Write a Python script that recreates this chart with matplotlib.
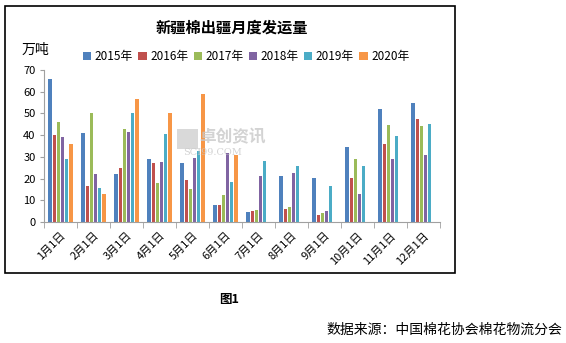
import numpy as np
import matplotlib.pyplot as plt
from matplotlib.patches import Rectangle

plt.rcParams['font.family'] = ['Noto Sans CJK SC', 'DejaVu Sans']

MONTHS = ["1月1日", "2月1日", "3月1日", "4月1日", "5月1日", "6月1日",
          "7月1日", "8月1日", "9月1日", "10月1日", "11月1日", "12月1日"]
SERIES = ["2015年", "2016年", "2017年", "2018年", "2019年", "2020年"]
COLORS = ["#4F81BD", "#C0504D", "#9BBB59", "#8064A2", "#4BACC6", "#F79646"]

v2015 = [65.8, 41.0, 22.0, 28.9, 27.1, 7.8, 4.6, 21.1, 20.4, 34.5, 52.1, 55.0]
v2016 = [40.0, 16.4, 25.1, 27.1, 19.4, 7.8, 5.2, 6.0, 3.1, 20.4, 36.1, 47.3]
v2017 = [46.0, 50.0, 43.0, 18.0, 15.2, 12.6, 5.7, 6.9, 4.3, 28.9, 44.7, 44.3]
v2018 = [39.2, 22.0, 41.5, 27.6, 29.7, 31.9, 21.1, 22.7, 5.2, 13.0, 28.9, 30.9]
v2019 = [29.2, 15.5, 50.4, 40.6, 32.5, 18.5, 28.0, 25.9, 16.7, 25.9, 39.7, 45.2]
v2020 = [36.1, 13.0, 56.5, 50.4, 59.1, 30.9]
VALUES = [v2015, v2016, v2017, v2018, v2019, v2020]

fig = plt.figure(figsize=(5.66, 3.43), dpi=100)
ax = fig.add_axes([0.0777, 0.3528, 0.6996, 0.443])

bw = 0.127
x = np.arange(len(MONTHS))
for i, (name, vals, c) in enumerate(zip(SERIES, VALUES, COLORS)):
    xs = x[:len(vals)] - 2.5 * bw + i * bw
    ax.bar(xs, vals, width=bw * 0.78, color=c, label=name, zorder=2)

ax.set_xlim(-0.5, 11.5)
ax.set_ylim(0, 70)
ax.set_yticks(range(0, 71, 10))
ax.tick_params(axis='y', labelsize=8, length=3, color='#A0A0A0', pad=3)
ax.set_xticks(x)
ax.set_xticklabels(MONTHS, rotation=45, ha='right', rotation_mode='anchor', fontsize=8)
ax.tick_params(axis='x', length=0, pad=6)
ax.set_xticks(np.arange(-0.5, 12, 1), minor=True)
ax.tick_params(axis='x', which='minor', length=4, color='#A0A0A0')
for s in ['top', 'right']:
    ax.spines[s].set_visible(False)
for s in ['left', 'bottom']:
    ax.spines[s].set_color('#A0A0A0')

fig.text(0.41, 0.92, "新疆棉出疆月度发运量", ha='center', va='center',
         fontsize=11, fontweight='bold')
fig.text(0.038, 0.855, "万吨", ha='left', va='center', fontsize=10)
fig.legend(loc='center', bbox_to_anchor=(0.435, 0.834), ncol=6, frameon=False,
           fontsize=8.5, handlelength=0.7, handleheight=0.7, handletextpad=0.3,
           columnspacing=0.45)

# watermark
fig.patches.append(Rectangle((0.313, 0.565), 0.036, 0.058, transform=fig.transFigure,
                             facecolor='#D0D0D0', edgecolor='none', alpha=0.8, zorder=3))
fig.text(0.41, 0.60, "卓创资讯", ha='center', va='center', fontsize=12,
         color='#C8C8C8', fontweight='bold', alpha=0.8, zorder=3)
fig.text(0.375, 0.556, "SCI99.COM", ha='center', va='center', fontsize=7,
         color='#C8C8C8', family='serif', alpha=0.8, zorder=3)

fig.patches.append(Rectangle((0.0088, 0.204), 0.795, 0.7785, transform=fig.transFigure,
                             fill=False, edgecolor='black', linewidth=1.2))

fig.text(0.405, 0.128, "图1", ha='center', va='center', fontsize=9, fontweight='bold')
fig.text(0.993, 0.038, "数据来源：中国棉花协会棉花物流分会", ha='right', va='center',
         fontsize=10)

fig.savefig("out.png", dpi=100)
